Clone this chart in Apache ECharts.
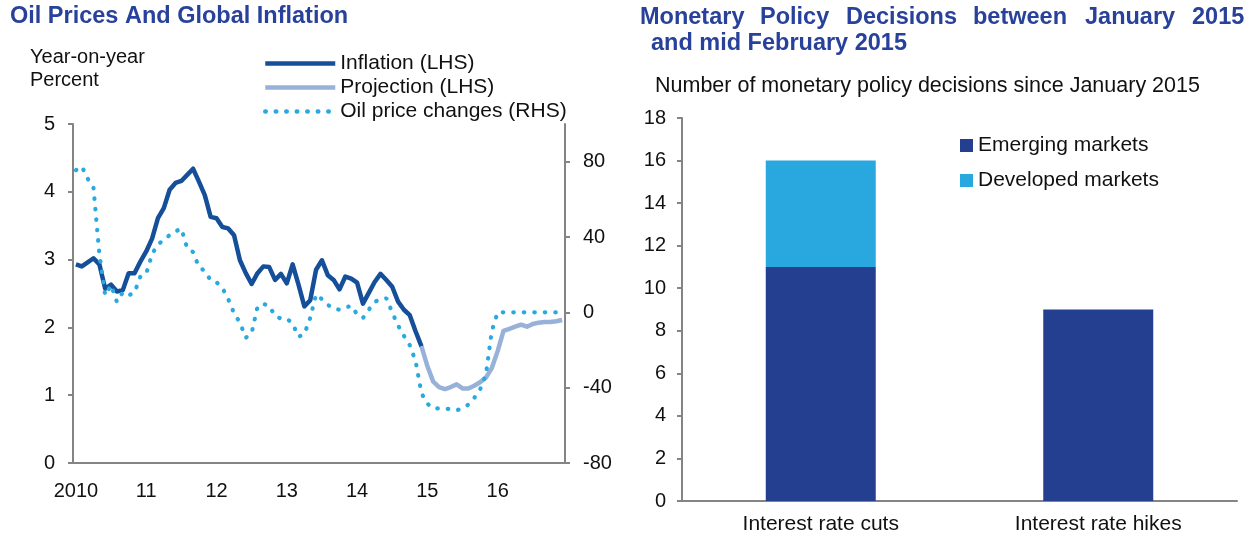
<!DOCTYPE html>
<html>
<head>
<meta charset="utf-8">
<script src="https://cdn.jsdelivr.net/npm/echarts@6/dist/echarts.min.js"></script>
<style>
html, body { margin: 0; padding: 0; background: #fff; }
#main { width: 1251px; height: 539px; }
</style>
</head>
<body>
<div id="main"></div>
<script>
// left chart: monthly, Jan 2010 - Dec 2016
var years = [2010, 2011, 2012, 2013, 2014, 2015, 2016]
var inflation = [2.93, 2.90, 2.96, 3.02, 2.93, 2.57, 2.63, 2.53, 2.55, 2.80,
    2.80, 2.97, 3.12, 3.31, 3.61, 3.76, 4.03, 4.13, 4.16, 4.25,
    4.34, 4.15, 3.95, 3.63, 3.61, 3.48, 3.46, 3.36, 2.99, 2.80,
    2.64, 2.80, 2.90, 2.89, 2.70, 2.79, 2.65, 2.93, 2.63, 2.31,
    2.40, 2.85, 2.99, 2.77, 2.70, 2.56, 2.75, 2.72, 2.66, 2.35,
    2.51, 2.67, 2.79, 2.70, 2.60, 2.38, 2.26, 2.18, 1.94, 1.72]
// projection starts at Dec 2014
var projection = [1.72, 1.43, 1.20, 1.12, 1.09, 1.12, 1.16, 1.10, 1.10, 1.14,
    1.19, 1.26, 1.40, 1.65, 1.95, 1.98, 2.01, 2.04, 2.01, 2.05,
    2.07, 2.08, 2.08, 2.09, 2.11]
var oil = [75.5, 77.5, 71, 66, 31, 9, 14.5, 5.5, 10.6, 9,
    10.5, 19, 20.5, 31, 36, 38.5, 41, 43, 44.5, 34,
    32, 24, 22, 17, 16, 13, 7, -0.5, -5.5, -13.5,
    -11, 3, 4.5, 3.5, -2, -3.3, -3.3, -6, -13, -11.5,
    -3, 9.5, 7, 4, 2, 1.4, 2.5, 3.5, -1, -3,
    1.4, 5.5, 7, 7.5, 0, -7, -12.5, -17.5, -26, -43,
    -48.5, -51, -51, -51, -51.5, -52, -51, -49, -45.5, -41,
    -33, -10, 0, 0, 0, 0, 0, 0, 0, 0,
    0, 0, 0, 0]
var rhsTicks = [-80, -40, 0, 40, 80]

// right chart
var decisionCats = ['Interest rate cuts', 'Interest rate hikes']
var emerging = [11, 9]
var developed = [5, 0]

var months = []
years.forEach(function(y) {
    for (var m = 1; m <= 12; m++) {
        months.push(y + '-' + (m < 10 ? '0' + m : m))
    }
})
var inflationData = inflation.concat(months.slice(inflation.length).map(function() { return null }))
var projectionData = months.slice(0, inflation.length - 1).map(function() { return null }).concat(projection)

var font = "'Liberation Sans', Arial, sans-serif"
var titleColor = '#28419a'
var axisGray = '#848484'
var titleFont = 'bold 23.5px ' + font

// justified first title line on the right
var titleWords = [
    ['Monetary', 640], ['Policy', 760], ['Decisions', 846],
    ['between', 973], ['January', 1085], ['2015', 1192]
]
var graphics = titleWords.map(function(w) {
    return {
        type: 'text', left: w[1], top: 6,
        style: { text: w[0], font: titleFont, fill: titleColor }
    }
})
graphics.push({
    type: 'text', left: 651, top: 32,
    style: { text: 'and mid February 2015', font: titleFont, fill: titleColor }
})
graphics.push({
    type: 'text', left: 10, top: 5,
    style: { text: 'Oil Prices And Global Inflation', font: titleFont, fill: titleColor }
})
graphics.push({
    type: 'text', left: 30, top: 46,
    style: { text: 'Year-on-year\nPercent', font: '20px ' + font, fill: '#111', lineHeight: 23 }
})
graphics.push({
    type: 'text', left: 655, top: 75,
    style: { text: 'Number of monetary policy decisions since January 2015', font: '21.5px ' + font, fill: '#111' }
})

var myChart = echarts.init(document.getElementById('main'), null, { renderer: 'canvas' })
var option = {
    animation: false,
    backgroundColor: '#fff',
    textStyle: { fontFamily: font },
    graphic: graphics,
    legend: [
        {
            left: 258, top: 48, orient: 'vertical', itemWidth: 70, itemHeight: 10, itemGap: 3,
            itemStyle: { opacity: 0 },
            lineStyle: { width: 4.5 },
            textStyle: { fontSize: 21, color: '#111', fontFamily: font },
            data: ['Inflation (LHS)', 'Projection (LHS)', 'Oil price changes (RHS)']
        },
        {
            left: 955, top: 130, orient: 'vertical', icon: 'rect', itemWidth: 13, itemHeight: 13, itemGap: 14,
            textStyle: { fontSize: 21, color: '#111', fontFamily: font },
            data: ['Emerging markets', 'Developed markets']
        }
    ],
    grid: [
        { left: 73, top: 124, width: 492, height: 339 },
        { left: 682, top: 118, width: 555, height: 383 }
    ],
    xAxis: [
        {
            type: 'category', gridIndex: 0, data: months, boundaryGap: true,
            axisLine: { lineStyle: { color: axisGray, width: 2 } },
            axisTick: { interval: 11, length: 5, lineStyle: { color: axisGray, width: 2 } },
            axisLabel: {
                interval: 11, margin: 18, fontSize: 20, color: '#111',
                formatter: function(v) {
                    var y = v.slice(0, 4)
                    return y === '2010' ? y : y.slice(2)
                }
            }
        },
        {
            type: 'category', gridIndex: 1, data: decisionCats,
            axisLine: { lineStyle: { color: axisGray, width: 2 } },
            axisTick: { show: false },
            axisLabel: { margin: 13, fontSize: 21, color: '#111' }
        }
    ],
    yAxis: [
        {
            type: 'value', gridIndex: 0, min: 0, max: 5, interval: 1,
            axisLine: { show: true, lineStyle: { color: axisGray, width: 2 } },
            axisTick: { show: true, length: 5, lineStyle: { color: axisGray, width: 2 } },
            axisLabel: { margin: 18, fontSize: 20, color: '#111' },
            splitLine: { show: false }
        },
        {
            type: 'value', gridIndex: 0, position: 'right', min: -80, max: 100, interval: 40,
            axisLine: { show: true, lineStyle: { color: axisGray, width: 2 } },
            axisTick: { show: true, length: 5, customValues: rhsTicks, lineStyle: { color: axisGray, width: 2 } },
            axisLabel: { margin: 18, fontSize: 20, color: '#111', customValues: rhsTicks },
            splitLine: { show: false }
        },
        {
            type: 'value', gridIndex: 1, min: 0, max: 18, interval: 2,
            axisLine: { show: true, lineStyle: { color: axisGray, width: 2 } },
            axisTick: { show: true, length: 5, lineStyle: { color: axisGray, width: 2 } },
            axisLabel: { margin: 16, fontSize: 20, color: '#111' },
            splitLine: { show: false }
        }
    ],
    series: [
        {
            name: 'Inflation (LHS)', type: 'line', xAxisIndex: 0, yAxisIndex: 0,
            data: inflationData, showSymbol: false, symbol: 'none',
            lineStyle: { color: '#154f99', width: 4.5, join: 'round' },
            itemStyle: { color: '#154f99' }
        },
        {
            name: 'Projection (LHS)', type: 'line', xAxisIndex: 0, yAxisIndex: 0,
            data: projectionData, showSymbol: false, symbol: 'none',
            lineStyle: { color: '#97b1d8', width: 4.5, join: 'round' },
            itemStyle: { color: '#97b1d8' }
        },
        {
            name: 'Oil price changes (RHS)', type: 'line', xAxisIndex: 0, yAxisIndex: 1,
            data: oil, showSymbol: false, symbol: 'none',
            lineStyle: { color: '#2aa9e1', width: 4.2, type: [0.5, 10], cap: 'round' },
            itemStyle: { color: '#2aa9e1' }
        },
        {
            name: 'Emerging markets', type: 'bar', xAxisIndex: 1, yAxisIndex: 2, stack: 'decisions',
            data: emerging, barWidth: 110, itemStyle: { color: '#243f90' }
        },
        {
            name: 'Developed markets', type: 'bar', xAxisIndex: 1, yAxisIndex: 2, stack: 'decisions',
            data: developed, barWidth: 110, itemStyle: { color: '#29a8e0' }
        }
    ]
}
myChart.setOption(option)
</script>
</body>
</html>
